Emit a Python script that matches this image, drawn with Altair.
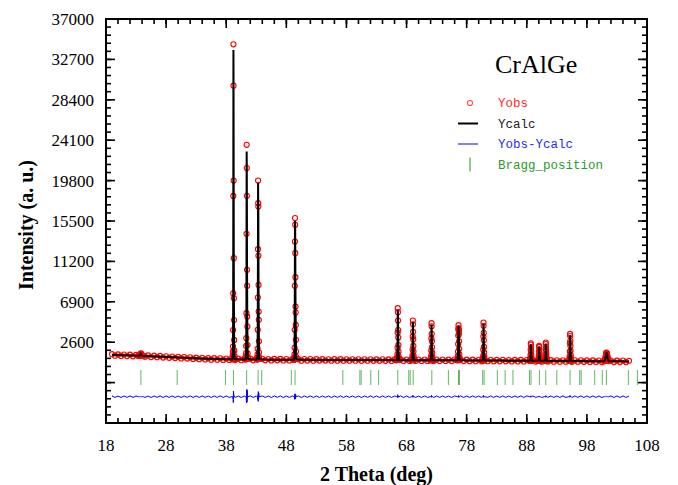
import altair as alt
import numpy as np
import pandas as pd

# ---------------------------------------------------------------------------
# Rietveld refinement of CrAlGe: observed / calculated profile, difference
# curve and Bragg reflection markers.
# ---------------------------------------------------------------------------

# Background region: 2-theta grid start and step (deg)
BG_START = 19.0
BG_STEP = 0.5

# Calculated background level on the grid (19.0 ... 105.0)
bg_calc = [
    1250, 1240, 1230, 1220, 1210, 1200, 1190, 1180, 1170, 1160,
    1150, 1135, 1120, 1105, 1090, 1075, 1060, 1045, 1030, 1015,
    1000, 985, 970, 955, 940, 925, 910, 895, 880, 868,
    856, 845, 835, 826, 818, 810, 803, 797, 791, 786,
    781, 777, 773, 769, 765, 762, 759, 756, 753, 750,
    748, 746, 744, 742, 740, 738, 736, 734, 732, 730,
    728, 726, 724, 722, 721, 720, 719, 718, 717, 716,
    715, 714, 713, 712, 711, 710, 709, 708, 707, 706,
    705, 704, 703, 702, 701, 700, 699, 698, 697, 696,
    695, 694, 693, 692, 691, 690, 689, 688, 687, 686,
    685, 684, 683, 682, 681, 680, 679, 678, 677, 676,
    675, 674, 673, 672, 671, 670, 668, 666, 664, 662,
    660, 658, 656, 654, 652, 650, 648, 646, 644, 642,
    640, 638, 636, 634, 632, 630, 628, 626, 624, 622,
    620, 618, 616, 614, 612, 610, 608, 606, 604, 602,
    600, 598, 596, 594, 592, 590, 588, 586, 584, 582,
    580, 578, 576, 574, 572, 570, 568, 566, 564, 562,
    560, 558, 556,
]

# Observed counts on the same grid
bg_obs = [
    1330, 1165, 1300, 1135, 1288, 1128, 1274, 1100, 1244, 1083,
    1230, 1060, 1190, 1020, 1168, 1003, 1144, 965, 1104, 938,
    1080, 910, 1040, 870, 1018, 853, 994, 815, 954, 791,
    936, 770, 905, 741, 896, 738, 887, 717, 865, 709,
    861, 702, 843, 684, 843, 690, 843, 676, 827, 673,
    828, 671, 814, 657, 818, 666, 820, 654, 806, 653,
    808, 651, 794, 637, 799, 648, 803, 638, 791, 639,
    795, 639, 783, 627, 789, 638, 793, 628, 781, 629,
    785, 629, 773, 617, 779, 628, 783, 618, 771, 619,
    775, 619, 763, 607, 769, 618, 773, 608, 761, 609,
    765, 609, 753, 597, 759, 608, 763, 598, 751, 599,
    755, 599, 743, 587, 749, 598, 752, 586, 738, 585,
    740, 583, 726, 569, 730, 578, 732, 566, 718, 565,
    720, 563, 706, 549, 710, 558, 712, 546, 698, 545,
    700, 543, 686, 529, 690, 538, 692, 526, 678, 525,
    680, 523, 666, 509, 670, 518, 672, 506, 658, 505,
    660, 503, 646, 489, 650, 498, 652, 486, 638, 485,
    640, 483, 626,
]

# Reflections: centre (deg), sampling step (deg), observed and calculated counts
peak_center = [23.80, 39.20, 41.40, 43.30, 49.45, 66.54, 69.05, 72.15,
               76.64, 80.80, 88.67, 90.05, 91.16, 95.20, 101.25]
peak_step = [0.04, 0.02, 0.02, 0.02, 0.02, 0.02, 0.02, 0.02,
             0.02, 0.02, 0.02, 0.02, 0.02, 0.02, 0.04]
peak_obs = [
    [1140, 1150, 1135, 1160, 1170, 1190, 1210, 1240, 1290, 1350, 1420,
     1370, 1300, 1250, 1220, 1195, 1180, 1165, 1150, 1140, 1130],
    [780, 800, 860, 980, 1200, 1600, 2130, 3900, 7800, 18170, 34300,
     29900, 19800, 11540, 7280, 4960, 2840, 1700, 1150, 920, 820],
    [760, 780, 830, 920, 1100, 1450, 2200, 3030, 5690, 14130, 23610,
     21130, 18180, 10300, 8600, 5330, 4270, 2300, 1400, 1000, 850],
    [760, 770, 800, 870, 1000, 1300, 1900, 3920, 7350, 12500, 19810,
     17400, 17040, 11790, 8700, 5860, 4980, 2700, 1500, 1000, 820],
    [730, 740, 770, 840, 980, 1300, 2000, 3920, 8600, 13310, 15810,
     15090, 12080, 9520, 6390, 5750, 4440, 2860, 1600, 1050, 830],
    [700, 690, 720, 740, 780, 850, 1000, 1300, 2000, 3600, 6220,
     5800, 4900, 3900, 3100, 2300, 1600, 1100, 860, 760, 710],
    [690, 700, 695, 720, 760, 830, 950, 1200, 1800, 3200, 4900,
     4500, 3700, 2900, 2200, 1600, 1150, 900, 780, 720, 700],
    [680, 690, 700, 715, 750, 810, 920, 1150, 1700, 3000, 4620,
     4300, 3500, 2700, 2050, 1500, 1100, 880, 770, 710, 690],
    [680, 690, 720, 780, 900, 1150, 1600, 2400, 3300, 4000, 4410,
     4100, 3800, 3900, 3500, 2700, 1900, 1300, 950, 780, 700],
    [665, 660, 680, 700, 740, 800, 920, 1150, 1800, 3200, 4690,
     4350, 3600, 2800, 2100, 1500, 1100, 870, 750, 690, 670],
    [635, 630, 645, 660, 690, 740, 820, 950, 1250, 1800, 2490,
     2350, 2000, 1650, 1300, 1000, 820, 720, 670, 645, 630],
    [625, 630, 640, 650, 680, 720, 800, 920, 1150, 1600, 2210,
     2100, 1800, 1500, 1200, 950, 790, 700, 655, 635, 625],
    [622, 625, 640, 655, 690, 740, 830, 980, 1300, 1850, 2560,
     2400, 2050, 1700, 1350, 1050, 840, 730, 670, 640, 625],
    [600, 605, 615, 640, 680, 750, 870, 1100, 1600, 2500, 3480,
     3250, 2750, 2200, 1700, 1250, 950, 780, 680, 630, 610],
    [585, 600, 630, 670, 730, 820, 940, 1100, 1270, 1420, 1490,
     1460, 1380, 1250, 1100, 950, 820, 720, 650, 610, 590],
]
peak_calc = [
    [1145, 1145, 1150, 1155, 1165, 1180, 1205, 1240, 1290, 1350, 1390,
     1350, 1295, 1245, 1215, 1190, 1175, 1160, 1150, 1140, 1135],
    [760, 790, 850, 960, 1180, 1650, 2300, 4000, 8100, 18800, 33700,
     29500, 19500, 11300, 7100, 4800, 2900, 1750, 1150, 900, 800],
    [740, 770, 820, 910, 1080, 1500, 2350, 3300, 6200, 14800, 22900,
     21500, 17400, 10900, 8000, 5100, 3900, 2400, 1450, 1020, 850],
    [750, 760, 790, 860, 990, 1350, 2100, 4100, 7500, 12800, 19600,
     17900, 16500, 12000, 8500, 5900, 4600, 2750, 1550, 1020, 820],
    [720, 735, 765, 835, 975, 1350, 2150, 4200, 8400, 13200, 15500,
     15000, 12300, 9300, 6600, 5500, 4300, 2900, 1650, 1060, 830],
    [695, 700, 710, 730, 770, 850, 1000, 1320, 2050, 3700, 6000,
     5700, 4950, 3950, 3050, 2250, 1600, 1120, 870, 760, 715],
    [688, 692, 700, 715, 750, 820, 950, 1220, 1850, 3250, 4750,
     4450, 3750, 2900, 2150, 1580, 1150, 910, 785, 725, 700],
    [678, 685, 695, 710, 745, 805, 925, 1170, 1750, 3050, 4480,
     4250, 3550, 2700, 2000, 1480, 1100, 890, 775, 715, 692],
    [672, 685, 715, 775, 890, 1150, 1620, 2450, 3350, 3950, 4300,
     4150, 3850, 3800, 3450, 2650, 1880, 1300, 960, 790, 710],
    [658, 662, 672, 690, 730, 795, 920, 1170, 1850, 3250, 4550,
     4300, 3650, 2800, 2050, 1480, 1100, 880, 755, 695, 668],
    [628, 632, 640, 655, 685, 735, 820, 960, 1280, 1850, 2400,
     2300, 2020, 1640, 1280, 990, 820, 725, 672, 646, 632],
    [620, 625, 633, 648, 675, 715, 795, 930, 1180, 1650, 2150,
     2080, 1820, 1480, 1180, 940, 785, 702, 658, 636, 626],
    [616, 621, 632, 650, 682, 735, 830, 990, 1330, 1900, 2450,
     2380, 2080, 1680, 1320, 1030, 835, 732, 672, 642, 626],
    [596, 600, 612, 635, 675, 745, 870, 1120, 1650, 2550, 3350,
     3200, 2780, 2180, 1670, 1230, 945, 780, 682, 632, 608],
    [580, 598, 625, 665, 725, 815, 935, 1090, 1260, 1400, 1460,
     1450, 1380, 1250, 1095, 945, 815, 718, 652, 612, 592],
]

# Bragg reflection positions (deg)
bragg_pos = [23.80, 29.84, 37.87, 39.20, 41.40, 43.30, 43.90, 48.83, 49.45,
             57.40, 60.23, 60.45, 62.05, 63.35, 66.54, 68.36, 68.60, 69.10,
             72.20, 74.96, 76.64, 76.80, 80.66, 80.90, 83.10, 84.40, 85.70,
             88.45, 88.70, 90.10, 91.16, 93.00, 95.20, 96.80, 97.05, 99.30,
             100.56, 101.25, 104.90, 106.40]

# Axis labels and titles
x_ticks = [18, 28, 38, 48, 58, 68, 78, 88, 98, 108]
y_ticks = [2600, 6900, 11200, 15500, 19800, 24100, 28400, 32700, 37000]
x_title = "2 Theta (deg)"
y_title = "Intensity (a. u.)"

legend_names = ["Yobs", "Ycalc", "Yobs-Ycalc", "Bragg_position"]
phase_name = "CrAlGe"

# Vertical placement of the difference curve and the reflection markers
DIFF_OFFSET = -3200
BRAGG_LEVEL = -1150

# ---------------------------------------------------------------------------
# Assemble the profile table
# ---------------------------------------------------------------------------
windows = []
rows = []
for c, s, obs, calc in zip(peak_center, peak_step, peak_obs, peak_calc):
    half = s * (len(obs) - 1) / 2
    windows.append((c - half - 1e-6, c + half + 1e-6))
    for k, (o, cc) in enumerate(zip(obs, calc)):
        rows.append((c - half + k * s, o, cc))

for i, (o, cc) in enumerate(zip(bg_obs, bg_calc)):
    t = BG_START + i * BG_STEP
    if any(lo <= t <= hi for lo, hi in windows):
        continue
    rows.append((t, o, cc))

df = pd.DataFrame(rows, columns=["tt", "yobs", "ycalc"]).sort_values("tt")
df["ydiff"] = df["yobs"] - df["ycalc"] + DIFF_OFFSET
bragg_df = pd.DataFrame({"pos": bragg_pos})

# ---------------------------------------------------------------------------
# Layout
# ---------------------------------------------------------------------------
W, H = 541, 404
X_DOMAIN = [x_ticks[0], x_ticks[-1]]
Y_MIN = y_ticks[0] - 2 * (y_ticks[1] - y_ticks[0])
Y_DOMAIN = [Y_MIN, y_ticks[-1]]
SERIF = "Liberation Serif"
MONO = "Liberation Mono"

xs = alt.Scale(domain=X_DOMAIN, nice=False, zero=False)
ys = alt.Scale(domain=Y_DOMAIN, nice=False, zero=False)


def X(field):
    return alt.X(field, scale=xs, axis=None)


def Y(field):
    return alt.Y(field, scale=ys, axis=None)


obs_layer = alt.Chart(df).mark_point(
    shape="circle", filled=False, color="#ff0000", size=26, strokeWidth=1.1, opacity=1
).encode(x=X("tt:Q"), y=Y("yobs:Q"))

calc_layer = alt.Chart(df).mark_line(color="#000000", strokeWidth=2).encode(
    x=X("tt:Q"), y=Y("ycalc:Q"), order="tt:Q")

diff_layer = alt.Chart(df).mark_line(color="#0000ff", strokeWidth=1).encode(
    x=X("tt:Q"), y=Y("ydiff:Q"), order="tt:Q")

bragg_layer = alt.Chart(bragg_df).mark_tick(
    color="#1f9a1f", thickness=1, size=15, orient="vertical"
).encode(x=X("pos:Q"), y=alt.Y(datum=BRAGG_LEVEL, scale=ys, axis=None))

# Inward-pointing frame ticks (major and minor) on all four sides
x_major = pd.DataFrame({"v": x_ticks})
x_minor = pd.DataFrame({"v": np.arange(x_ticks[0], x_ticks[-1] + 0.01, 2)})
y_step = y_ticks[1] - y_ticks[0]
y_major = pd.DataFrame({"v": np.arange(Y_MIN, y_ticks[-1] + 1, y_step)})
y_minor = pd.DataFrame({"v": np.arange(Y_MIN, y_ticks[-1] + 1, y_step / 5)})


def x_tick_layer(data, length):
    bottom = alt.Chart(data).mark_rule(color="black", strokeWidth=1.6).encode(
        x=X("v:Q"), y=alt.value(H), y2=alt.value(H - length))
    top = alt.Chart(data).mark_rule(color="black", strokeWidth=1.6).encode(
        x=X("v:Q"), y=alt.value(0), y2=alt.value(length))
    return [bottom, top]


def y_tick_layer(data, length):
    left = alt.Chart(data).mark_rule(color="black", strokeWidth=1.6).encode(
        y=Y("v:Q"), x=alt.value(0), x2=alt.value(length))
    right = alt.Chart(data).mark_rule(color="black", strokeWidth=1.6).encode(
        y=Y("v:Q"), x=alt.value(W - length), x2=alt.value(W))
    return [left, right]


tick_layers = (x_tick_layer(x_minor, 5) + x_tick_layer(x_major, 9)
               + y_tick_layer(y_minor, 5) + y_tick_layer(y_major, 9))

# Tick labels placed through the scales
x_labels = alt.Chart(pd.DataFrame({"v": x_ticks})).mark_text(
    font=SERIF, fontSize=17, color="black", align="center", baseline="middle"
).encode(x=X("v:Q"), y=alt.value(H + 23), text=alt.Text("v:Q", format="d"))

y_labels = alt.Chart(pd.DataFrame({"v": y_ticks})).mark_text(
    font=SERIF, fontSize=17, color="black", align="right", baseline="middle", dy=1
).encode(y=Y("v:Q"), x=alt.value(-12), text=alt.Text("v:Q", format="d"))

one = lambda v: pd.DataFrame({"label": [v]})

x_title_mark = alt.Chart(one(x_title)).mark_text(
    font=SERIF, fontSize=20, fontWeight="bold", color="black",
    align="center", baseline="middle"
).encode(x=alt.value(W / 2), y=alt.value(H + 52), text="label:N")

y_title_mark = alt.Chart(one(y_title)).mark_text(
    font=SERIF, fontSize=20, fontWeight="bold", color="black",
    align="center", baseline="middle", angle=270
).encode(x=alt.value(-79), y=alt.value(H / 2 + 4), text="label:N")

# Legend block
LX_TEXT, LX_SYM = 392, 364
LY = [84, 104.5, 125, 145.5]

title_text = alt.Chart(one(phase_name)).mark_text(
    font=SERIF, fontSize=26, color="black", align="left", baseline="middle"
).encode(x=alt.value(389), y=alt.value(46), text="label:N")

legend_colors = ["#ff2a2a", "#1a1a1a", "#2a2aff", "#2a9a2a"]
legend_texts = [
    alt.Chart(one(name)).mark_text(
        font=MONO, fontSize=12.5, color=col, align="left", baseline="middle"
    ).encode(x=alt.value(LX_TEXT), y=alt.value(yy), text="label:N")
    for name, col, yy in zip(legend_names, legend_colors, LY)
]

sym_obs = alt.Chart(one("Yobs")).mark_point(
    shape="circle", filled=False, color="#ff0000", size=26, strokeWidth=1.1
).encode(x=alt.value(LX_SYM), y=alt.value(LY[0]))
sym_calc = alt.Chart(one("Ycalc")).mark_rule(color="black", strokeWidth=2).encode(
    x=alt.value(LX_SYM - 12), x2=alt.value(LX_SYM + 8), y=alt.value(LY[1]))
sym_diff = alt.Chart(one("diff")).mark_rule(color="#0000ff", strokeWidth=1).encode(
    x=alt.value(LX_SYM - 12), x2=alt.value(LX_SYM + 8), y=alt.value(LY[2]))
sym_bragg = alt.Chart(one("bragg")).mark_rule(color="#1f9a1f", strokeWidth=1).encode(
    x=alt.value(LX_SYM), y=alt.value(LY[3] - 7), y2=alt.value(LY[3] + 7))

chart = alt.layer(
    obs_layer, calc_layer, diff_layer, bragg_layer,
    *tick_layers, x_labels, y_labels, x_title_mark, y_title_mark,
    title_text, *legend_texts, sym_obs, sym_calc, sym_diff, sym_bragg,
).properties(
    width=W,
    height=H,
    padding={"left": 106, "top": 19, "right": 31, "bottom": 62},
    autosize=alt.AutoSizeParams(type="none"),
    background="white",
).configure_view(
    stroke="black", strokeWidth=2
)

chart.save("out.html", embed_options={"renderer": "svg", "actions": False})
